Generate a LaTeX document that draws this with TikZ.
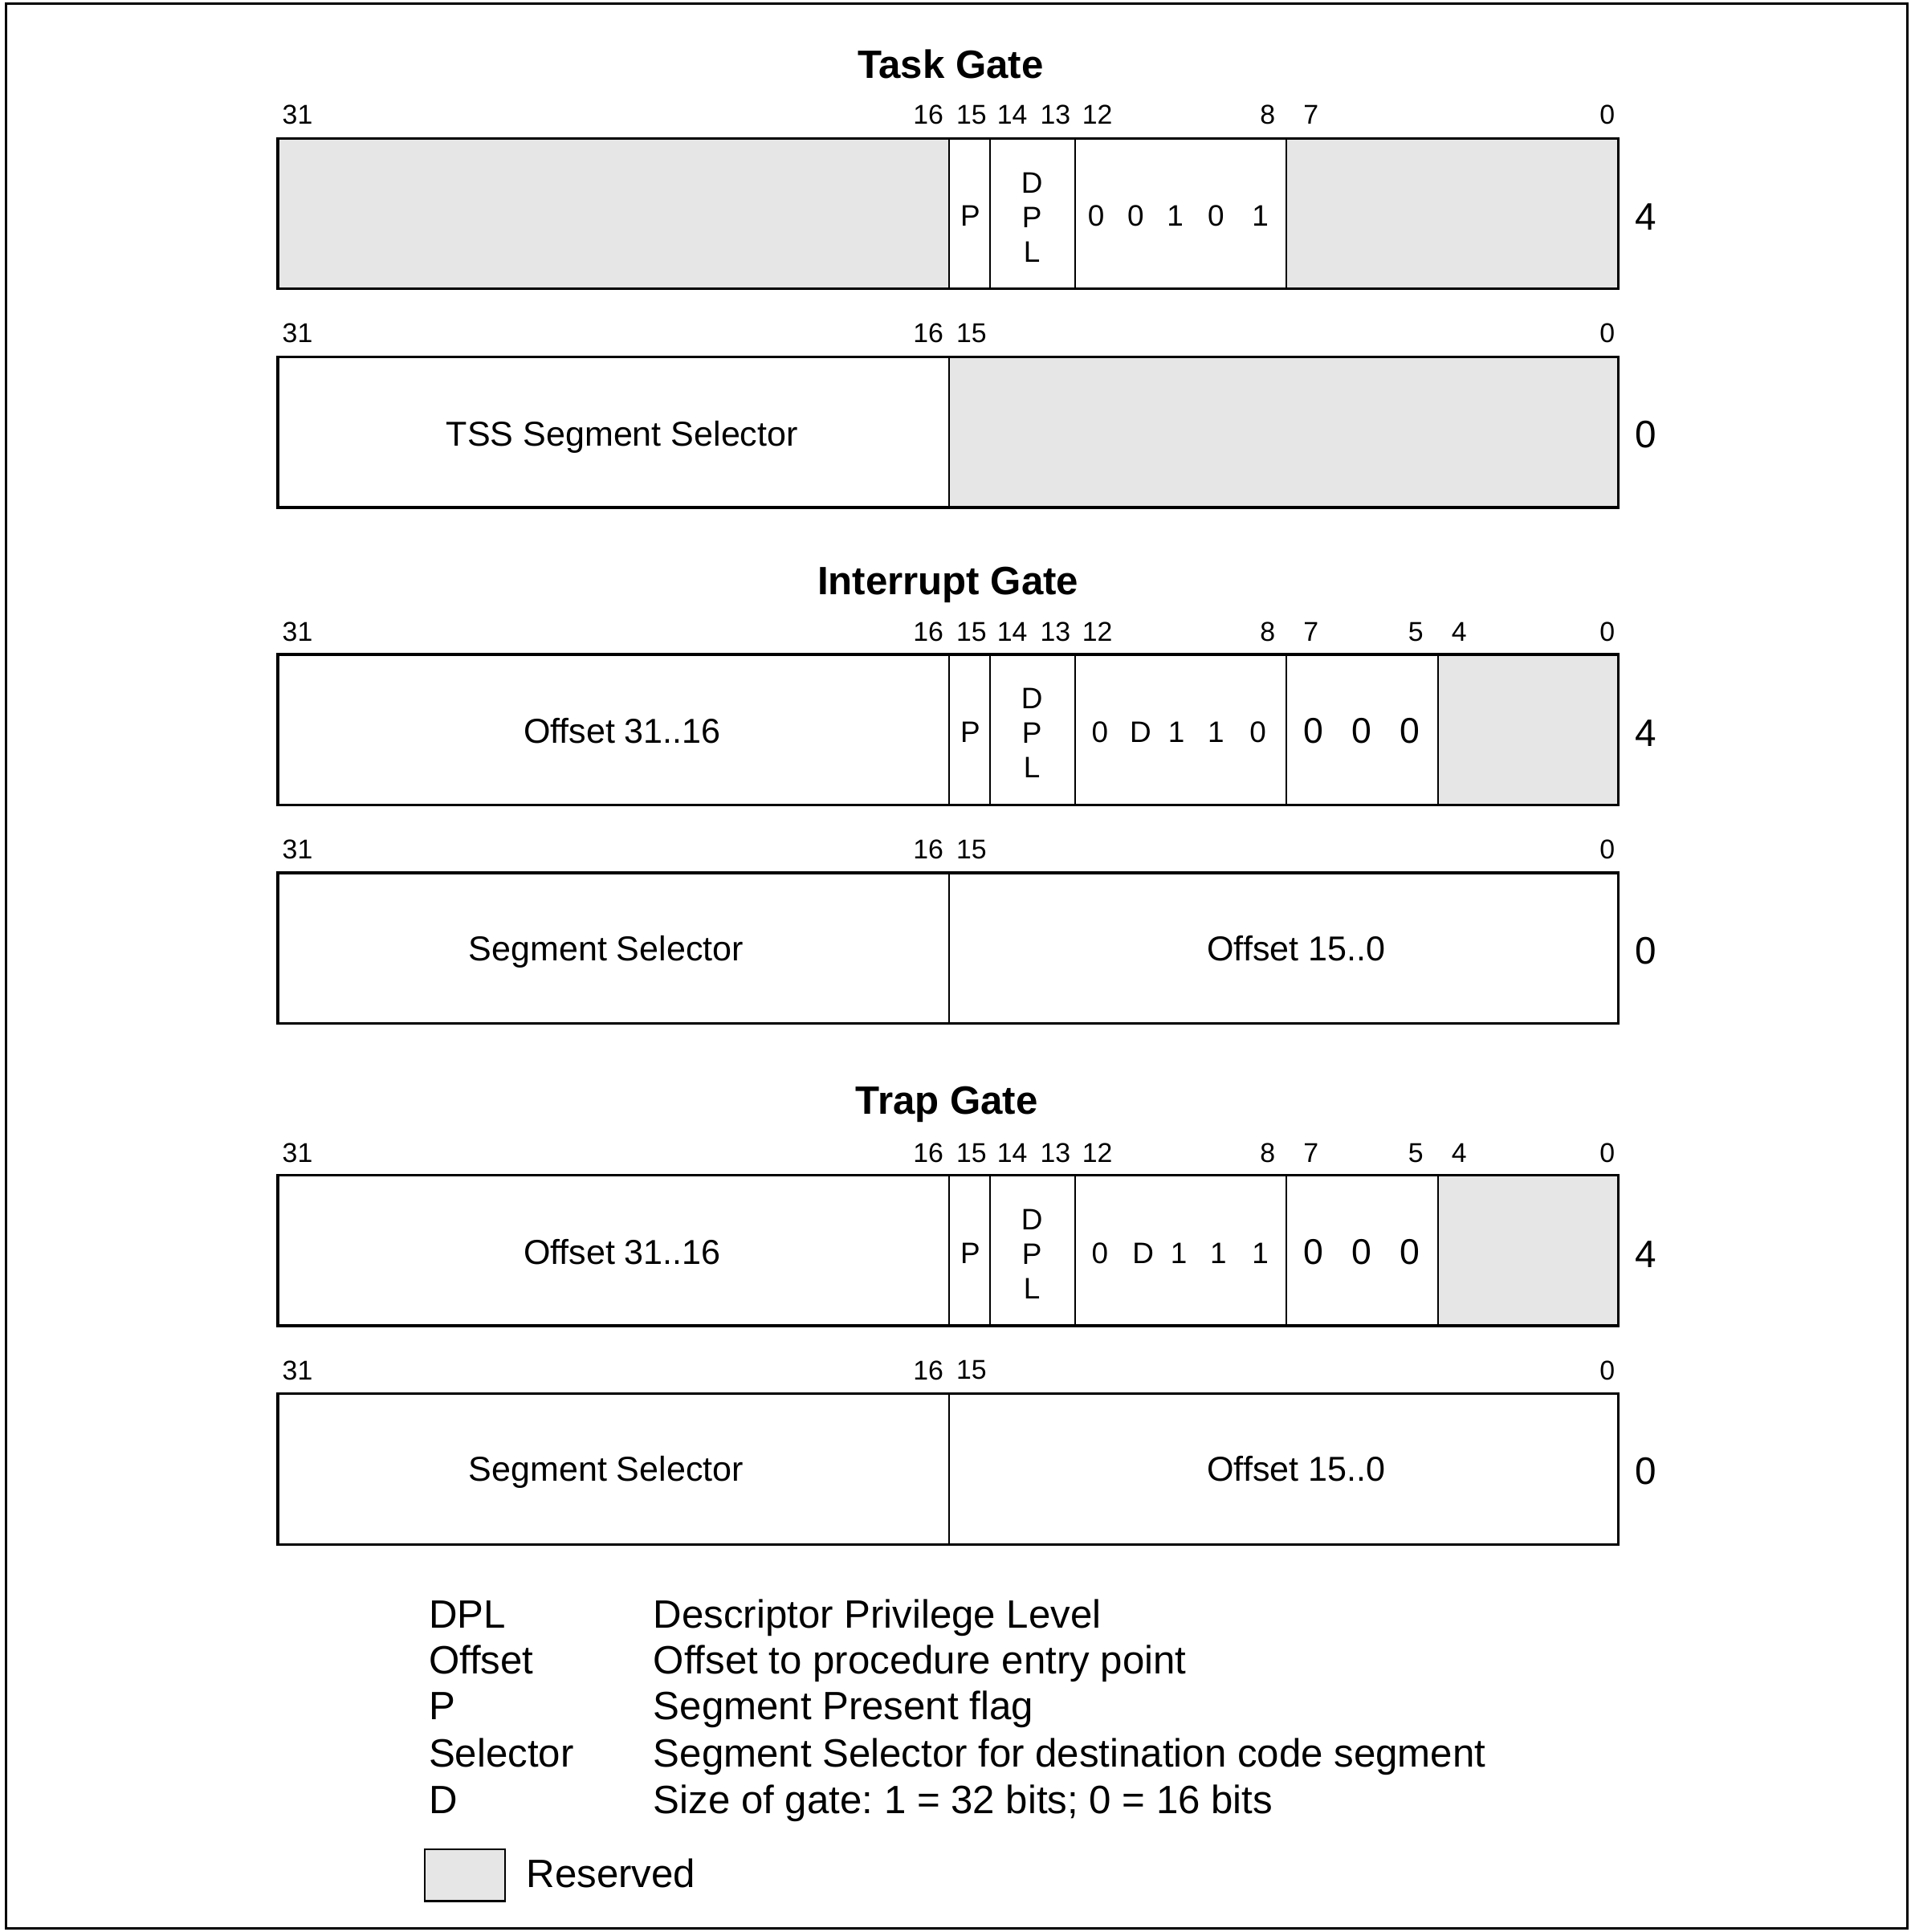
\documentclass[tikz,border=0pt]{standalone}
\usepackage{fontspec}
\setmainfont{Liberation Sans}
\definecolor{resv}{RGB}{230,230,230}
\tikzset{
  frameline/.style={draw, line width=1.1pt},
  divline/.style={draw, line width=0.5pt},
  resfill/.style={fill=resv},
  bitlbl/.style={font=\fontsize{11}{13}\selectfont, inner sep=0},
  fieldtxt/.style={font=\fontsize{14}{16}\selectfont, inner sep=0, anchor=base},
  flagtxt/.style={font=\fontsize{12}{14}\selectfont, inner sep=0},
  zerotxt/.style={font=\fontsize{14.5}{16}\selectfont, inner sep=0},
  titletxt/.style={font=\bfseries\fontsize{16}{18}\selectfont, inner sep=0, anchor=base},
  rowlbl/.style={font=\fontsize{15.5}{18}\selectfont, inner sep=0},
  legendtxt/.style={font=\fontsize{16}{18}\selectfont, inner sep=0, anchor=base west},
}
\begin{document}
\frenchspacing
\begin{tikzpicture}[x=0.5pt,y=-0.5pt]
\useasboundingbox (0,0) rectangle (1548,1565);
\draw[line width=1pt] (5,3) rectangle (1545,1562);

% ---------- Task Gate ----------
\node[titletxt] (t1) at (770,63.5) {Task Gate};
% row 4
\fill[resfill] (225,112) rectangle (769,234);
\fill[resfill] (1042,112) rectangle (1311,234);
\foreach \xx in {769,802,871,1042} \draw[divline] (\xx,112) -- (\xx,234);
\draw[frameline] (225,112) rectangle (1311,234);
\foreach \lb/\xx in {31/241,16/752,15/787,14/820,13/855,12/889,8/1027,7/1062,0/1302}
  \node[bitlbl] (ra-\lb) at (\xx,93) {\lb};
\node[flagtxt] (ra-p) at (786,175) {P};
\node[flagtxt] (ra-d1) at (836,148) {D};
\node[flagtxt] (ra-d2) at (836,176) {P};
\node[flagtxt] (ra-d3) at (836,204) {L};
\foreach \ch/\xx [count=\k] in {0/888,0/920,1/952,0/985,1/1021}
  \node[flagtxt] (ra-ty\k) at (\xx,175) {\ch};
\node[rowlbl] (ra-row) at (1333,176) {4};
% row 0
\fill[resfill] (769,289) rectangle (1311,411);
\draw[divline] (769,289) -- (769,411);
\draw[frameline] (225,289) rectangle (1311,411);
\foreach \lb/\xx in {31/241,16/752,15/787,0/1302}
  \node[bitlbl] (rb-\lb) at (\xx,270) {\lb};
\node[fieldtxt] (rb-sel) at (504,361) {TSS Segment Selector};
\node[rowlbl] (rb-row) at (1333,352) {0};

% ---------- Interrupt Gate ----------
\node[titletxt] (t2) at (768,481.5) {Interrupt Gate};
\fill[resfill] (1165,530) rectangle (1311,652);
\foreach \xx in {769,802,871,1042,1165} \draw[divline] (\xx,530) -- (\xx,652);
\draw[frameline] (225,530) rectangle (1311,652);
\foreach \lb/\xx in {31/241,16/752,15/787,14/820,13/855,12/889,8/1027,7/1062,5/1147,4/1182,0/1302}
  \node[bitlbl] (rc-\lb) at (\xx,512) {\lb};
\node[fieldtxt] (rc-off) at (504,602) {Offset 31..16};
\node[flagtxt] (rc-p) at (786,593) {P};
\node[flagtxt] (rc-d1) at (836,566) {D};
\node[flagtxt] (rc-d2) at (836,594) {P};
\node[flagtxt] (rc-d3) at (836,622) {L};
\foreach \ch/\xx [count=\k] in {0/891,D/924,1/953,1/985,0/1019}
  \node[flagtxt] (rc-ty\k) at (\xx,593) {\ch};
\foreach \xx [count=\k] in {1064,1103,1142}
  \node[zerotxt] (rc-z\k) at (\xx,592) {0};
\node[rowlbl] (rc-row) at (1333,594) {4};
\draw[divline] (769,707) -- (769,829);
\draw[frameline] (225,707) rectangle (1311,829);
\foreach \lb/\xx in {31/241,16/752,15/787,0/1302}
  \node[bitlbl] (rd-\lb) at (\xx,688) {\lb};
\node[fieldtxt] (rd-sel) at (491,778) {Segment Selector};
\node[fieldtxt] (rd-off) at (1050,778) {Offset 15..0};
\node[rowlbl] (rd-row) at (1333,770) {0};

% ---------- Trap Gate ----------
\node[titletxt] (t3) at (767,902.5) {Trap Gate};
\fill[resfill] (1165,952) rectangle (1311,1074);
\foreach \xx in {769,802,871,1042,1165} \draw[divline] (\xx,952) -- (\xx,1074);
\draw[frameline] (225,952) rectangle (1311,1074);
\foreach \lb/\xx in {31/241,16/752,15/787,14/820,13/855,12/889,8/1027,7/1062,5/1147,4/1182,0/1302}
  \node[bitlbl] (re-\lb) at (\xx,934) {\lb};
\node[fieldtxt] (re-off) at (504,1024) {Offset 31..16};
\node[flagtxt] (re-p) at (786,1015) {P};
\node[flagtxt] (re-d1) at (836,988) {D};
\node[flagtxt] (re-d2) at (836,1016) {P};
\node[flagtxt] (re-d3) at (836,1044) {L};
\foreach \ch/\xx [count=\k] in {0/891,D/926,1/955,1/987,1/1021}
  \node[flagtxt] (re-ty\k) at (\xx,1015) {\ch};
\foreach \xx [count=\k] in {1064,1103,1142}
  \node[zerotxt] (re-z\k) at (\xx,1014) {0};
\node[rowlbl] (re-row) at (1333,1016) {4};
\draw[divline] (769,1129) -- (769,1251);
\draw[frameline] (225,1129) rectangle (1311,1251);
\foreach \lb/\xx in {31/241,16/752,15/787,0/1302}
  \node[bitlbl] (rf-\lb) at (\xx,1110) {\lb};
\node[fieldtxt] (rf-sel) at (491,1200) {Segment Selector};
\node[fieldtxt] (rf-off) at (1050,1200) {Offset 15..0};
\node[rowlbl] (rf-row) at (1333,1192) {0};

% ---------- Legend ----------
\foreach \ka/\kb/\yy [count=\k] in {
  DPL/Descriptor Privilege Level/1319,
  Offset/Offset to procedure entry point/1356,
  P/Segment Present flag/1393,
  Selector/Segment Selector for destination code segment/1431,
  D/{Size of gate: 1 = 32 bits; 0 = 16 bits}/1469}{
  \node[legendtxt] (lk\k) at (347,\yy) {\ka};
  \node[legendtxt] (lv\k) at (529,\yy) {\kb};
}
\draw[fill=resv, line width=0.8pt] (344,1498) rectangle (409,1540);
\node[legendtxt] (lres) at (426,1529) {Reserved};
\end{tikzpicture}
\end{document}
